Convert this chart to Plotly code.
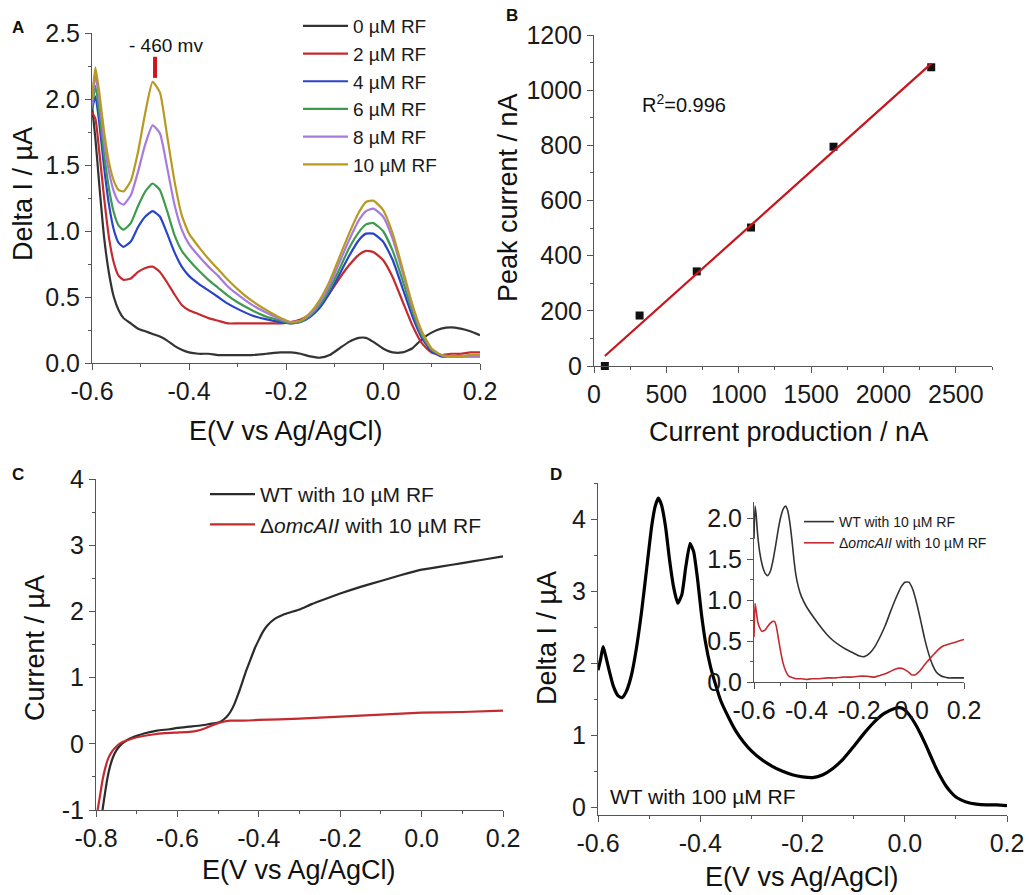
import numpy as np
import plotly.graph_objects as go

W, H = 1029, 895
FONT = "Liberation Sans, Arial, sans-serif"

# ---------------- Panel A data ----------------
XA = [-0.600, -0.593, -0.585, -0.575, -0.565, -0.555, -0.545, -0.535, -0.52, -0.505, -0.49, -0.475,
      -0.46, -0.445, -0.43, -0.415, -0.40, -0.38, -0.36, -0.34, -0.32, -0.30, -0.27, -0.24, -0.21,
      -0.19, -0.17, -0.15, -0.13, -0.11, -0.09, -0.07, -0.05, -0.035, -0.02, 0.00, 0.02, 0.04, 0.06,
      0.08, 0.10, 0.12, 0.14, 0.16, 0.18, 0.20]
A_0uM = [1.95, 1.70, 1.35, 0.95, 0.68, 0.50, 0.40, 0.34, 0.30, 0.26, 0.24, 0.22, 0.20, 0.17, 0.13,
         0.10, 0.08, 0.07, 0.07, 0.06, 0.06, 0.06, 0.06, 0.07, 0.08, 0.08, 0.07, 0.05, 0.04, 0.06,
         0.11, 0.16, 0.19, 0.19, 0.16, 0.11, 0.08, 0.08, 0.11, 0.18, 0.23, 0.26, 0.27, 0.26, 0.24, 0.21]
A_2uM = [1.90, 1.85, 1.60, 1.25, 0.95, 0.76, 0.66, 0.63, 0.64, 0.69, 0.72, 0.73, 0.69, 0.61, 0.52,
         0.44, 0.40, 0.37, 0.34, 0.32, 0.30, 0.30, 0.30, 0.30, 0.30, 0.31, 0.33, 0.37, 0.44, 0.53,
         0.64, 0.74, 0.82, 0.85, 0.84, 0.78, 0.65, 0.47, 0.29, 0.15, 0.08, 0.06, 0.07, 0.07, 0.08, 0.08]
A_4uM = [1.92, 2.02, 1.82, 1.48, 1.20, 1.01, 0.91, 0.88, 0.92, 1.03, 1.11, 1.15, 1.11, 0.98, 0.84,
         0.73, 0.66, 0.60, 0.55, 0.50, 0.45, 0.41, 0.36, 0.33, 0.31, 0.30, 0.31, 0.35, 0.42, 0.53,
         0.67, 0.81, 0.93, 0.98, 0.98, 0.92, 0.78, 0.57, 0.36, 0.19, 0.09, 0.05, 0.05, 0.05, 0.05, 0.05]
A_6uM = [1.93, 2.10, 1.90, 1.58, 1.32, 1.14, 1.04, 1.01, 1.06, 1.19, 1.30, 1.36, 1.31, 1.15, 0.97,
         0.85, 0.78, 0.70, 0.63, 0.57, 0.51, 0.46, 0.40, 0.35, 0.32, 0.30, 0.31, 0.36, 0.44, 0.56,
         0.71, 0.87, 0.99, 1.05, 1.06, 1.00, 0.85, 0.63, 0.40, 0.21, 0.10, 0.06, 0.05, 0.05, 0.06, 0.06]
A_8uM = [1.95, 2.18, 2.00, 1.68, 1.45, 1.30, 1.22, 1.20, 1.27, 1.45, 1.66, 1.80, 1.74, 1.48, 1.20,
         1.01, 0.90, 0.81, 0.73, 0.66, 0.58, 0.52, 0.44, 0.38, 0.33, 0.31, 0.32, 0.37, 0.46, 0.59,
         0.76, 0.93, 1.08, 1.15, 1.17, 1.11, 0.94, 0.69, 0.43, 0.23, 0.11, 0.06, 0.05, 0.05, 0.05, 0.05]
A_10uM = [2.00, 2.24, 2.05, 1.75, 1.52, 1.38, 1.31, 1.30, 1.38, 1.60, 1.90, 2.13, 2.05, 1.72, 1.38,
          1.12, 0.98, 0.88, 0.79, 0.71, 0.63, 0.56, 0.47, 0.40, 0.34, 0.31, 0.32, 0.38, 0.48, 0.62,
          0.80, 0.98, 1.14, 1.22, 1.23, 1.16, 0.98, 0.72, 0.45, 0.24, 0.11, 0.06, 0.05, 0.05, 0.06, 0.06]
A_NAMES = ["0 µM RF", "2 µM RF", "4 µM RF", "6 µM RF", "8 µM RF", "10 µM RF"]
A_COLORS = ["#333333", "#c42a2f", "#2a44c8", "#3f9a4e", "#a57be0", "#b89a22"]
PEAK_MARK_X = [-0.47, -0.47]
PEAK_MARK_Y = [2.16, 2.32]

# ---------------- Panel B data ----------------
B_X = [75, 315, 710, 1085, 1655, 2330]
B_Y = [0, 183, 343, 502, 795, 1083]

# ---------------- Panel C data ----------------
C_WT_X = [-0.784, -0.778, -0.772, -0.765, -0.758, -0.75, -0.74, -0.73, -0.72, -0.70, -0.68, -0.65,
          -0.62, -0.60, -0.57, -0.54, -0.52, -0.50, -0.49, -0.48, -0.47, -0.46, -0.45, -0.44, -0.43,
          -0.42, -0.41, -0.40, -0.39, -0.38, -0.36, -0.34, -0.32, -0.30, -0.27, -0.24, -0.20, -0.15,
          -0.10, -0.05, 0.00, 0.05, 0.10, 0.15, 0.20]
C_WT_Y = [-1.0, -0.75, -0.52, -0.33, -0.20, -0.10, -0.02, 0.03, 0.07, 0.12, 0.16, 0.20, 0.22, 0.24,
          0.26, 0.28, 0.30, 0.32, 0.35, 0.40, 0.48, 0.60, 0.76, 0.94, 1.12, 1.28, 1.44, 1.57, 1.69,
          1.78, 1.89, 1.95, 1.99, 2.03, 2.11, 2.18, 2.27, 2.37, 2.46, 2.55, 2.63, 2.68, 2.73, 2.78, 2.83]
C_OM_X = [-0.796, -0.79, -0.784, -0.777, -0.77, -0.76, -0.75, -0.74, -0.73, -0.71, -0.69, -0.66,
          -0.63, -0.60, -0.57, -0.55, -0.53, -0.51, -0.49, -0.47, -0.44, -0.40, -0.30, -0.20, -0.10,
          0.00, 0.10, 0.20]
C_OM_Y = [-1.0, -0.78, -0.55, -0.36, -0.22, -0.11, -0.04, 0.01, 0.04, 0.08, 0.11, 0.14, 0.16, 0.17,
          0.18, 0.20, 0.24, 0.29, 0.33, 0.35, 0.35, 0.36, 0.38, 0.41, 0.44, 0.47, 0.48, 0.50]

# ---------------- Panel D data ----------------
D_X = [-0.600, -0.595, -0.590, -0.585, -0.580, -0.570, -0.560, -0.553, -0.545, -0.535, -0.525,
       -0.515, -0.505, -0.495, -0.488, -0.482, -0.476, -0.468, -0.460, -0.452, -0.444, -0.436,
       -0.428, -0.420, -0.413, -0.405, -0.398, -0.390, -0.380, -0.370, -0.360, -0.345, -0.330,
       -0.315, -0.300, -0.280, -0.260, -0.240, -0.220, -0.200, -0.180, -0.160, -0.140, -0.120,
       -0.100, -0.080, -0.060, -0.040, -0.020, -0.010, 0.000, 0.010, 0.020, 0.030, 0.040, 0.050,
       0.060, 0.070, 0.080, 0.090, 0.100, 0.110, 0.120, 0.140, 0.160, 0.180, 0.200]
D_Y = [1.90, 2.05, 2.23, 2.10, 1.95, 1.68, 1.54, 1.52, 1.60, 1.82, 2.20, 2.70, 3.30, 3.90, 4.18,
       4.29, 4.20, 3.90, 3.43, 3.05, 2.83, 2.95, 3.35, 3.66, 3.55, 3.15, 2.70, 2.30, 1.95, 1.70,
       1.48, 1.25, 1.05, 0.90, 0.78, 0.66, 0.57, 0.50, 0.45, 0.42, 0.41, 0.45, 0.54, 0.67, 0.84,
       1.02, 1.18, 1.30, 1.37, 1.38, 1.35, 1.27, 1.16, 1.03, 0.88, 0.72, 0.56, 0.42, 0.30, 0.21,
       0.14, 0.10, 0.07, 0.04, 0.03, 0.03, 0.02]

# inset
I_WT_X = [-0.600, -0.596, -0.592, -0.586, -0.578, -0.568, -0.558, -0.548, -0.538, -0.528, -0.518,
          -0.508, -0.498, -0.488, -0.480, -0.472, -0.464, -0.456, -0.448, -0.440, -0.430, -0.420,
          -0.400, -0.375, -0.350, -0.325, -0.300, -0.275, -0.250, -0.225, -0.200, -0.180, -0.160,
          -0.140, -0.120, -0.100, -0.080, -0.060, -0.040, -0.025, -0.010, 0.005, 0.020, 0.035,
          0.050, 0.065, 0.080, 0.095, 0.110, 0.125, 0.140, 0.160, 0.180, 0.200]
I_WT_Y = [1.75, 2.15, 2.05, 1.80, 1.58, 1.42, 1.33, 1.30, 1.35, 1.48, 1.66, 1.86, 2.02, 2.12, 2.15,
          2.10, 1.96, 1.75, 1.50, 1.30, 1.15, 1.05, 0.92, 0.80, 0.69, 0.59, 0.51, 0.45, 0.40, 0.36,
          0.32, 0.31, 0.35, 0.43, 0.55, 0.69, 0.86, 1.02, 1.16, 1.22, 1.22, 1.13, 0.96, 0.75, 0.53,
          0.35, 0.21, 0.12, 0.08, 0.06, 0.05, 0.05, 0.05, 0.05]
I_OM_X = [-0.600, -0.596, -0.592, -0.586, -0.578, -0.570, -0.560, -0.550, -0.540, -0.530, -0.522,
          -0.515, -0.508, -0.500, -0.490, -0.480, -0.470, -0.460, -0.440, -0.420, -0.400, -0.380,
          -0.350, -0.320, -0.290, -0.260, -0.230, -0.200, -0.170, -0.140, -0.120, -0.100, -0.080,
          -0.060, -0.045, -0.030, -0.015, 0.000, 0.015, 0.030, 0.045, 0.060, 0.080, 0.100, 0.120,
          0.140, 0.160, 0.180, 0.200]
I_OM_Y = [0.55, 0.96, 0.88, 0.74, 0.66, 0.62, 0.63, 0.67, 0.71, 0.74, 0.74, 0.68, 0.55, 0.40, 0.24,
          0.14, 0.08, 0.06, 0.04, 0.04, 0.03, 0.04, 0.04, 0.05, 0.05, 0.06, 0.06, 0.07, 0.07, 0.06,
          0.08, 0.10, 0.13, 0.16, 0.17, 0.16, 0.13, 0.09, 0.09, 0.13, 0.19, 0.25, 0.32, 0.39, 0.44,
          0.46, 0.48, 0.50, 0.52]

# ---------------- tick labels ----------------
TV_E06 = [-0.6, -0.4, -0.2, 0.0, 0.2]
TT_E06 = ["-0.6", "-0.4", "-0.2", "0.0", "0.2"]
TV_E08 = [-0.8, -0.6, -0.4, -0.2, 0.0, 0.2]
TT_E08 = ["-0.8", "-0.6", "-0.4", "-0.2", "0.0", "0.2"]
TV_A_Y = [0.0, 0.5, 1.0, 1.5, 2.0, 2.5]
TT_A_Y = ["0.0", "0.5", "1.0", "1.5", "2.0", "2.5"]
TV_B_X = [0, 500, 1000, 1500, 2000, 2500]
TT_B_X = ["0", "500", "1000", "1500", "2000", "2500"]
TV_B_Y = [0, 200, 400, 600, 800, 1000, 1200]
TT_B_Y = ["0", "200", "400", "600", "800", "1000", "1200"]
TV_C_Y = [-1, 0, 1, 2, 3, 4]
TT_C_Y = ["-1", "0", "1", "2", "3", "4"]
TV_D_Y = [0, 1, 2, 3, 4]
TT_D_Y = ["0", "1", "2", "3", "4"]
TV_I_Y = [0.0, 0.5, 1.0, 1.5, 2.0]
TT_I_Y = ["0.0", "0.5", "1.0", "1.5", "2.0"]

BLACK = "#2b2b2b"
RED = "#c42a2f"
AXC = "#555555"


def px_x(p):
    return p / W


def px_y(p):
    return 1 - p / H


fig = go.Figure()

# Panel A traces
for ys, nm, c in zip([A_0uM, A_2uM, A_4uM, A_6uM, A_8uM, A_10uM], A_NAMES, A_COLORS):
    fig.add_trace(go.Scatter(x=XA, y=ys, mode="lines", name=nm, legendgroup=nm,
                             line=dict(color=c, width=2.2, shape="spline", smoothing=0.5),
                             xaxis="x", yaxis="y", legend="legend"))
fig.add_trace(go.Scatter(x=PEAK_MARK_X, y=PEAK_MARK_Y, mode="lines", showlegend=False,
                         line=dict(color="#d0141e", width=4), xaxis="x", yaxis="y", cliponaxis=False))

# Panel B traces
coef = np.polyfit(B_X, B_Y, 1)
fit_x = np.array([min(B_X), max(B_X)])
fig.add_trace(go.Scatter(x=B_X, y=B_Y, mode="markers", showlegend=False,
                         marker=dict(symbol="square", size=8, color="#111111"),
                         xaxis="x2", yaxis="y2", cliponaxis=False))
fig.add_trace(go.Scatter(x=fit_x, y=np.polyval(coef, fit_x), mode="lines", showlegend=False,
                         line=dict(color="#c8141c", width=2.2), xaxis="x2", yaxis="y2"))

# Panel C traces
fig.add_trace(go.Scatter(x=C_WT_X, y=C_WT_Y, mode="lines", name="WT with 10 µM RF",
                         line=dict(color=BLACK, width=2.2, shape="spline", smoothing=0.5),
                         xaxis="x3", yaxis="y3", legend="legend2"))
fig.add_trace(go.Scatter(x=C_OM_X, y=C_OM_Y, mode="lines", name="Δ<i>omcAII</i> with 10 µM RF",
                         line=dict(color=RED, width=2.2, shape="spline", smoothing=0.5),
                         xaxis="x3", yaxis="y3", legend="legend2"))

# Panel D main
fig.add_trace(go.Scatter(x=D_X, y=D_Y, mode="lines", showlegend=False,
                         line=dict(color="#000000", width=3.2, shape="spline", smoothing=0.5),
                         xaxis="x4", yaxis="y4"))
# Inset
fig.add_trace(go.Scatter(x=I_WT_X, y=I_WT_Y, mode="lines", name="WT with 10 µM RF",
                         line=dict(color="#333333", width=1.6, shape="spline", smoothing=0.5),
                         xaxis="x5", yaxis="y5", legend="legend3"))
fig.add_trace(go.Scatter(x=I_OM_X, y=I_OM_Y, mode="lines", name="Δ<i>omcAII</i> with 10 µM RF",
                         line=dict(color=RED, width=1.6, shape="spline", smoothing=0.5),
                         xaxis="x5", yaxis="y5", legend="legend3"))


def axis(x0, x1, rng, tv, tt, mdtick, mtick0, anchor, fs=25):
    return dict(domain=[x0, x1], range=rng, showline=True, linecolor=AXC, linewidth=1,
                ticks="outside", ticklen=6, tickcolor=AXC, tickwidth=1,
                tickfont=dict(size=fs, color="#1a1a1a", family=FONT),
                tickmode="array", tickvals=tv, ticktext=tt,
                showgrid=False, zeroline=False, anchor=anchor, automargin=False,
                minor=dict(ticks="outside", ticklen=3, dtick=mdtick, tick0=mtick0,
                           tickcolor=AXC, showgrid=False),
                fixedrange=True)


layout = dict(
    width=W, height=H, margin=dict(l=0, r=0, t=0, b=0, autoexpand=False),
    paper_bgcolor="white", plot_bgcolor="rgba(0,0,0,0)",
    font=dict(family=FONT, color="#1a1a1a"),
    xaxis=axis(px_x(92), px_x(480), [-0.6, 0.2], TV_E06, TT_E06, 0.1, -0.6, "y"),
    yaxis=axis(px_y(363), px_y(33), [0, 2.5], TV_A_Y, TT_A_Y, 0.25, 0, "x"),
    xaxis2=axis(px_x(594), px_x(992), [0, 2750], TV_B_X, TT_B_X, 250, 0, "y2"),
    yaxis2=axis(px_y(366), px_y(35), [0, 1200], TV_B_Y, TT_B_Y, 100, 0, "x2"),
    xaxis3=axis(px_x(96), px_x(503), [-0.8, 0.2], TV_E08, TT_E08, 0.1, -0.8, "y3"),
    yaxis3=axis(px_y(810), px_y(479), [-1, 4], TV_C_Y, TT_C_Y, 0.5, -1, "x3"),
    xaxis4=axis(px_x(598), px_x(1007), [-0.6, 0.2], TV_E06, TT_E06, 0.1, -0.6, "y4"),
    yaxis4=axis(px_y(815), px_y(483), [-0.11, 4.5], TV_D_Y, TT_D_Y, 0.5, 0, "x4"),
    xaxis5=axis(px_x(754), px_x(964), [-0.6, 0.2], TV_E06, TT_E06, 0.1, -0.6, "y5"),
    yaxis5=axis(px_y(682), px_y(502), [0, 2.2], TV_I_Y, TT_I_Y, 0.25, 0, "x5"),
    legend=dict(x=px_x(298), y=px_y(7), xanchor="left", yanchor="top",
                font=dict(size=19, family=FONT, color="#1a1a1a"), bgcolor="rgba(0,0,0,0)",
                traceorder="normal", itemwidth=45, tracegroupgap=0),
    legend2=dict(x=px_x(205), y=px_y(474), xanchor="left", yanchor="top",
                 font=dict(size=21, family=FONT, color="#1a1a1a"), bgcolor="rgba(0,0,0,0)",
                 itemwidth=45),
    legend3=dict(x=px_x(799), y=px_y(506), xanchor="left", yanchor="top",
                 font=dict(size=14, family=FONT, color="#1a1a1a"), bgcolor="rgba(0,0,0,0)",
                 itemwidth=30),
)
fig.update_layout(**layout)


def ann(text, x, y, size, angle=0, bold=False):
    fig.add_annotation(text=("<b>%s</b>" % text) if bold else text, x=px_x(x), y=px_y(y),
                       xref="paper", yref="paper", showarrow=False, textangle=angle,
                       font=dict(size=size, family=FONT, color="#111111"),
                       xanchor="center", yanchor="middle")


# panel letters
ann("A", 18, 27, 17, bold=True)
ann("B", 512, 15, 17, bold=True)
ann("C", 18, 474, 17, bold=True)
ann("D", 556, 474, 17, bold=True)
# axis titles
ann("Delta I / µA", 23, 194, 27, angle=-90)
ann("E(V vs Ag/AgCl)", 286, 431, 27)
ann("Peak current / nA", 508, 198, 27, angle=-90)
ann("Current production / nA", 788, 432, 27)
ann("Current / µA", 35, 648, 27, angle=-90)
ann("E(V vs Ag/AgCl)", 299, 870, 27)
ann("Delta I / µA", 547, 638, 27, angle=-90)
ann("E(V vs Ag/AgCl)", 802, 877, 27)
# in-plot texts
ann("- 460 mv", 166, 45, 19)
ann("R<sup>2</sup>=0.996", 684, 104, 20)
ann("WT with 100 µM RF", 703, 796, 21)

fig.write_html("out.html")
